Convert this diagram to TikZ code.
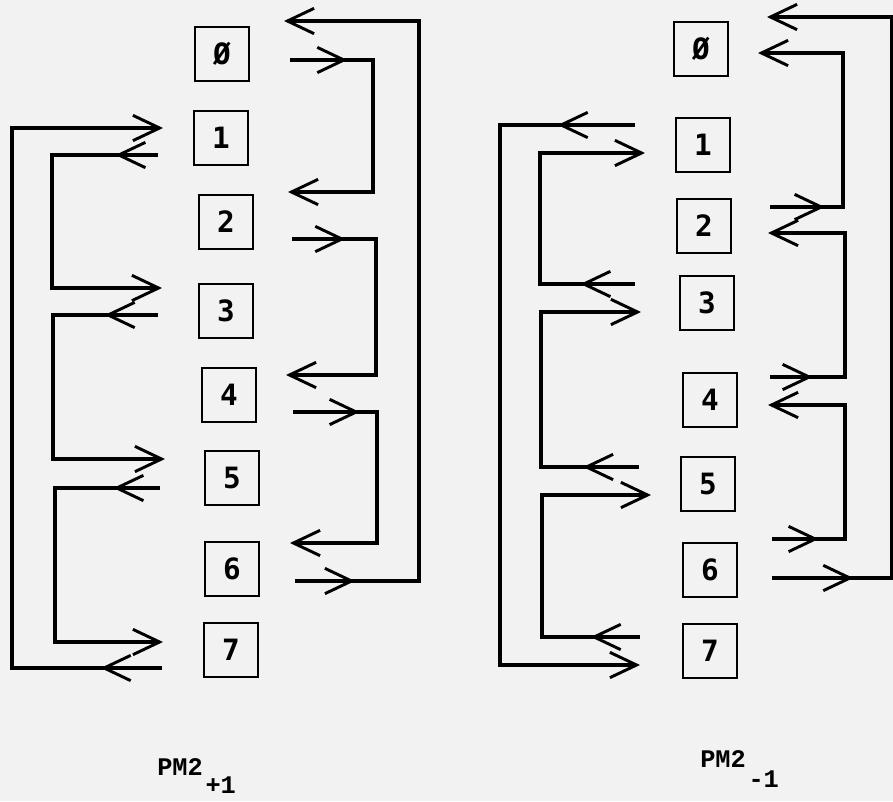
\documentclass[tikz,border=0pt]{standalone}
\usepackage{fontspec}
\usetikzlibrary{arrows.meta, decorations.markings}
\newfontfamily\cellfont{DejaVu Sans Mono}
\newfontfamily\labelfont{Liberation Mono}

\tikzset{
  barb/.tip={Straight Barb[length=20pt,width=19pt,line width=2.2pt]},
  cell/.style={draw, line width=1.5pt, minimum size=40pt, inner sep=0pt,
    font=\cellfont\bfseries\fontsize{22}{22}\selectfont},
  wire/.style={line width=2.8pt},
  into/.style={wire, -{barb}},
  outof/.style={postaction={decorate},
    decoration={markings, mark=at position #1 with {\arrow{barb}}}},
  caption/.style={anchor=base west, inner sep=0pt,
    font=\labelfont\bfseries\fontsize{19}{19}\selectfont}
}

\begin{document}
\begin{tikzpicture}[x=0.75pt,y=-0.75pt]
\fill[black!5] (0,0) rectangle (893,801);
\useasboundingbox (0,0) rectangle (893,801);

% PM2 +1
\node[cell] (L0) at (222,54) {Ø};
\node[cell] (L1) at (221,138) {1};
\node[cell] (L2) at (226,222) {2};
\node[cell] (L3) at (226,311) {3};
\node[cell] (L4) at (229,395) {4};
\node[cell] (L5) at (232,478) {5};
\node[cell] (L6) at (232,569) {6};
\node[cell] (L7) at (231,650) {7};

\coordinate (L1in) at (163,128);
\coordinate (L1out) at (158,155);
\coordinate (L3in) at (162,288);
\coordinate (L3out) at (158,315);
\coordinate (L5in) at (165,459);
\coordinate (L5out) at (160,488);
\coordinate (L7in) at (163,642);
\coordinate (L7out) at (162,668);
\coordinate (L0in) at (284,21);
\coordinate (L0out) at (290,60);
\coordinate (L2in) at (288,192);
\coordinate (L2out) at (292,239);
\coordinate (L4in) at (286,375);
\coordinate (L4out) at (293,412);
\coordinate (L6in) at (290,543);
\coordinate (L6out) at (295,581);

\draw[into, outof=32pt] (L1out) -- ++(-106,0) |- (L3in);
\draw[into, outof=40pt] (L3out) -- ++(-105,0) |- (L5in);
\draw[into, outof=35pt] (L5out) -- ++(-105,0) |- (L7in);
\draw[into, outof=46pt] (L7out) -- ++(-150,0) |- (L1in);
\draw[into, outof=43pt] (L0out) -- ++(83,0) |- (L2in);
\draw[into, outof=40pt] (L2out) -- ++(84,0) |- (L4in);
\draw[into, outof=50pt] (L4out) -- ++(84,0) |- (L6in);
\draw[into, outof=45pt] (L6out) -- ++(124,0) |- (L0in);

\node[caption] (capL) at (157,775) {PM2\raisebox{-14pt}{\kern2pt+1}};

% PM2 -1
\node[cell] (R0) at (701,49) {Ø};
\node[cell] (R1) at (703,145) {1};
\node[cell] (R2) at (704,226) {2};
\node[cell] (R3) at (707,303) {3};
\node[cell] (R4) at (710,400) {4};
\node[cell] (R5) at (708,484) {5};
\node[cell] (R6) at (710,570) {6};
\node[cell] (R7) at (710,651) {7};

\coordinate (R1out) at (635,125);
\coordinate (R1in) at (645,153);
\coordinate (R3out) at (635,284);
\coordinate (R3in) at (641,312);
\coordinate (R5out) at (639,467);
\coordinate (R5in) at (651,495);
\coordinate (R7out) at (640,637);
\coordinate (R7in) at (640,665);
\coordinate (R0far) at (767,17);
\coordinate (R0in) at (758,53);
\coordinate (R2out) at (770,207);
\coordinate (R2in) at (768,233);
\coordinate (R4out) at (770,377);
\coordinate (R4in) at (768,405);
\coordinate (R6out) at (772,539);
\coordinate (R6far) at (772,578);

\draw[into, outof=58pt] (R1out) -- ++(-135,0) |- (R7in);
\draw[into, outof=41pt] (R3out) -- ++(-95,0) |- (R1in);
\draw[into, outof=42pt] (R5out) -- ++(-98,0) |- (R3in);
\draw[into, outof=37pt] (R7out) -- ++(-98,0) |- (R5in);
\draw[into, outof=41pt] (R2out) -- ++(73,0) |- (R0in);
\draw[into, outof=32pt] (R4out) -- ++(75,0) |- (R2in);
\draw[into, outof=35pt] (R6out) -- ++(73,0) |- (R4in);
\draw[into, outof=61pt] (R6far) -- ++(120,0) |- (R0far);

\node[caption] (capR) at (700,767) {PM2\raisebox{-15pt}{\kern2pt-1}};
\end{tikzpicture}
\end{document}
